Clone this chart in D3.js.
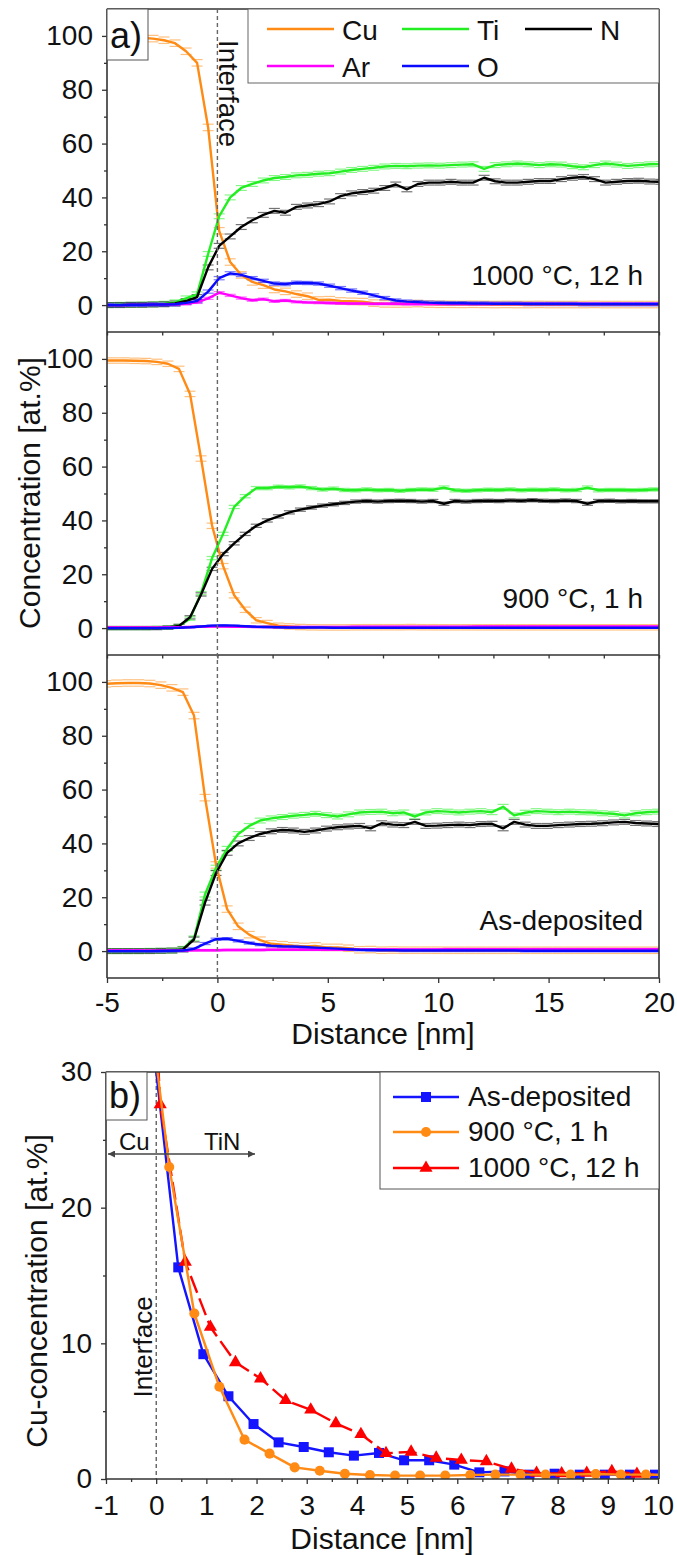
<!DOCTYPE html>
<html>
<head>
<meta charset="utf-8">
<script src="https://cdn.jsdelivr.net/npm/d3@7"></script>
<style>
  body { margin: 0; background: #fff; }
  svg { display: block; }
  text { font-family: "Liberation Sans", Arial, sans-serif; fill: #111; }
</style>
</head>
<body>
<svg id="chart" width="677" height="1555"></svg>
<script>
// ---------- data ----------
const elements = ["Cu", "Ti", "N", "Ar", "O"];
const elementColors = ["#ff8a14", "#22ee22", "#000000", "#ff00ff", "#0a0aff"];
const conditions = ["1000 °C, 12 h", "900 °C, 1 h", "As-deposited"];

// depth grid of each profile: first distance [nm] and spacing
const gridStart = [-5.42, -5.24, -5.06];
const gridStep = 0.5;

// 1000 °C, 12 h  [at.%]
const cu1000 = [99.8, 99.7, 99.6, 99.5, 99.3, 99.0, 98.4, 97.3, 94.3, 90.0,
  66.0, 27.6, 16.0, 11.2, 8.6, 7.4, 5.8, 5.1, 4.1, 3.3,
  1.9, 2.0, 1.55, 1.4, 1.3, 0.74, 0.44, 0.4, 0.44, 0.56,
  0.37, 0.3, 0.3, 0.25, 0.3, 0.25, 0.2, 0.25, 0.2, 0.2,
  0.25, 0.2, 0.2, 0.2, 0.2, 0.25, 0.2, 0.2, 0.2, 0.2, 0.2, 0.2];
const ti1000 = [0, 0, 0.1, 0.1, 0.2, 0.3, 0.5, 1.0, 2.5, 4.0,
  19, 33, 40, 43.5, 45, 46.3, 47.2, 47.6, 48.2, 48.4,
  48.8, 49.0, 49.6, 50.2, 50.6, 51.0, 51.5, 51.7, 51.6, 51.8,
  51.9, 51.8, 52.0, 52.2, 52.3, 50.6, 52.0, 52.3, 52.6, 52.3,
  52.0, 52.3, 52.2, 51.6, 51.2, 52.0, 52.6, 52.2, 51.7, 52.0, 52.3, 52.4];
const n1000 = [0, 0, 0, 0.1, 0.1, 0.2, 0.3, 0.6, 1.5, 3.0,
  14, 22, 25.5, 29, 31.5, 33.5, 35, 34.3, 36.5, 37,
  37.5, 38.5, 40.5, 41.5, 42, 42.5, 43.5, 44.8, 43.0, 45,
  45.5, 45.5, 45.8, 45.5, 45.5, 47.3, 46, 45.5, 45.5, 45.8,
  46.1, 46.1, 46.8, 47.3, 47.6, 46.8, 45.5, 45.8, 46.1, 46.2, 45.9, 45.8];
const ar1000 = [0, 0, 0, 0.1, 0.1, 0.2, 0.2, 0.3, 0.5, 1.0,
  2.5, 4.6, 3.6, 2.6, 1.8, 2.2, 1.4, 1.7, 1.2, 1.0,
  0.9, 0.8, 0.7, 0.6, 0.6, 0.5, 0.5, 0.5, 0.4, 0.4,
  0.4, 0.4, 0.4, 0.4, 0.4, 0.4, 0.4, 0.4, 0.4, 0.4,
  0.4, 0.4, 0.4, 0.4, 0.4, 0.4, 0.4, 0.4, 0.4, 0.4, 0.4, 0.4];
const o1000 = [0, 0, 0, 0.1, 0.1, 0.2, 0.2, 0.3, 0.8, 1.5,
  5, 10, 11.8, 11.2, 10, 9, 8, 7.8, 8.3, 8.2,
  8, 7.2, 6.3, 5.4, 4.6, 3.6, 2.6, 1.7, 1.3, 1.1,
  0.9, 0.8, 0.7, 0.7, 0.6, 0.6, 0.5, 0.5, 0.5, 0.4,
  0.4, 0.4, 0.4, 0.4, 0.3, 0.3, 0.3, 0.3, 0.3, 0.3, 0.3, 0.3];

// 900 °C, 1 h  [at.%]
const cu900 = [99.4, 99.4, 99.4, 99.3, 99.2, 98.9, 98.2, 96.3, 87, 63,
  38, 23, 12.2, 6.8, 2.9, 1.87, 0.86, 0.61, 0.39, 0.29,
  0.25, 0.25, 0.25, 0.3, 0.32, 0.32, 0.32, 0.32, 0.37, 0.32,
  0.32, 0.3, 0.3, 0.3, 0.3, 0.3, 0.3, 0.3, 0.3, 0.3,
  0.3, 0.3, 0.3, 0.3, 0.3, 0.3, 0.3, 0.3, 0.3, 0.3, 0.3, 0.3];
const ti900 = [0, 0, 0, 0, 0, 0.1, 0.2, 0.8, 3.5, 13,
  26, 35, 45, 49, 52, 52, 52.5, 52.3, 52.6, 52,
  51.5, 51.8, 51.3, 51.2, 51.5, 51.2, 51.3, 51.0, 51.3, 51.5,
  51.4, 52.2, 51.2, 51.0, 51.2, 51.4, 51.3, 51.5, 51.2, 51.4,
  51.3, 51.5, 51.2, 51.3, 52.2, 51.2, 51.3, 51.3, 51.2, 51.3, 51.5, 51.5];
const n900 = [0, 0, 0, 0, 0, 0, 0.2, 0.8, 4, 12.5,
  22, 27.5, 31.5, 35, 38, 40, 41.5, 43, 44, 44.8,
  45.5, 46, 46.5, 47, 47.2, 47, 47.2, 47.3, 47.2, 47.0,
  47.2, 46.2, 47.2, 47.0, 47.2, 47.3, 47.2, 47.4, 47.3, 47.5,
  47.3, 47.2, 47.4, 47.2, 46.2, 47.2, 47.3, 47.1, 47.2, 47.1, 47.1, 47.1];
const ar900 = [0.2, 0.2, 0.2, 0.2, 0.2, 0.2, 0.3, 0.3, 0.4, 0.5,
  0.6, 0.6, 0.5, 0.5, 0.4, 0.4, 0.4, 0.4, 0.4, 0.4,
  0.4, 0.4, 0.4, 0.5, 0.5, 0.5, 0.5, 0.5, 0.5, 0.5,
  0.5, 0.5, 0.5, 0.5, 0.6, 0.6, 0.6, 0.6, 0.6, 0.6,
  0.6, 0.6, 0.6, 0.6, 0.6, 0.6, 0.6, 0.6, 0.6, 0.6, 0.6, 0.6];
const o900 = [0, 0, 0, 0, 0, 0, 0.05, 0.1, 0.3, 0.6,
  0.9, 1.0, 0.9, 0.7, 0.5, 0.4, 0.3, 0.2, 0.2, 0.2,
  0.2, 0.1, 0.1, 0.1, 0.1, 0.1, 0.1, 0.1, 0.1, 0.1,
  0.1, 0.1, 0.1, 0.1, 0.1, 0.1, 0.1, 0.1, 0.1, 0.1,
  0.1, 0.1, 0.1, 0.1, 0.1, 0.1, 0.1, 0.1, 0.1, 0.1, 0.1, 0.1];

// As-deposited  [at.%]
const cuAsDep = [99.3, 99.5, 99.6, 99.6, 99.4, 98.8, 97.8, 96.2, 87.5, 57,
  32, 15.6, 9.2, 6.1, 4.05, 2.7, 2.36, 1.97, 1.72, 1.92,
  1.38, 1.38, 1.06, 0.49, 0.56, 0.32, 0.39, 0.32, 0.32, 0.32,
  0.32, 0.3, 0.3, 0.3, 0.3, 0.3, 0.3, 0.3, 0.3, 0.3,
  0.3, 0.3, 0.3, 0.3, 0.3, 0.3, 0.3, 0.3, 0.3, 0.3, 0.3, 0.3];
const tiAsDep = [0, 0, 0, 0, 0.1, 0.1, 0.2, 0.8, 4.7, 21,
  31, 38, 43.5, 46.5, 48.5, 49.3, 49.8, 50.3, 50.6, 51,
  50.5, 50, 50.8, 51.5, 51.7, 51.8, 51.2, 51.5, 50.0, 51.5,
  52.0, 51.8, 51.5, 51.8, 52.0, 51.6, 53.6, 50.4, 51.4, 52,
  51.8, 51.6, 51.8, 51.6, 51.5, 51.2, 51.0, 50.4, 51.2, 51.6, 51.8, 51.8];
const nAsDep = [0, 0, 0, 0, 0, 0.1, 0.2, 0.6, 4.3, 18,
  29, 36.5, 40, 42, 43.5, 44.5, 45, 44.8, 44.3, 44.8,
  45.5, 46, 46.3, 46.5, 45.6, 47.5, 47, 46.8, 48, 46.5,
  46.6, 46.8, 47, 46.8, 47.2, 47.3, 45.6, 48, 47, 46.5,
  46.5, 46.8, 47, 47.2, 47.3, 47.5, 47.8, 48, 47.6, 47.4, 47.2, 47.2];
const arAsDep = [0.2, 0.2, 0.2, 0.2, 0.2, 0.2, 0.2, 0.2, 0.3, 0.3,
  0.3, 0.4, 0.4, 0.4, 0.4, 0.5, 0.5, 0.5, 0.5, 0.5,
  0.5, 0.5, 0.6, 0.6, 0.6, 0.6, 0.6, 0.6, 0.6, 0.6,
  0.6, 0.7, 0.7, 0.7, 0.7, 0.7, 0.7, 0.7, 0.7, 0.7,
  0.7, 0.7, 0.7, 0.7, 0.7, 0.7, 0.7, 0.7, 0.7, 0.7, 0.7, 0.7];
const oAsDep = [0, 0, 0, 0, 0, 0.05, 0.1, 0.2, 0.8, 2.8,
  4.4, 4.6, 3.8, 3.0, 2.4, 2.0, 1.8, 1.7, 1.5, 1.3,
  1.1, 0.9, 0.7, 0.5, 0.4, 0.3, 0.3, 0.2, 0.2, 0.2,
  0.2, 0.2, 0.2, 0.2, 0.2, 0.2, 0.2, 0.2, 0.1, 0.1,
  0.1, 0.1, 0.1, 0.1, 0.1, 0.1, 0.1, 0.1, 0.1, 0.1, 0.1, 0.1];

// error bar half-widths per element (Cu, Ti, N, Ar, O) for each condition
const errHalf1000 = [1.2, 0.9, 0.9, 0.4, 0.6];
const errHalf900 = [1.0, 0.6, 0.6, 0.2, 0.2];
const errHalfAsDep = [1.2, 0.9, 0.9, 0.3, 0.4];

// axis ticks
const xTicksA = [-5, 0, 5, 10, 15, 20];
const xMinorA = [-2.5, 2.5, 7.5, 12.5, 17.5];
const yTicksA = [0, 20, 40, 60, 80, 100];
const yMinorA = [10, 30, 50, 70, 90];
const xTicksB = [-1, 0, 1, 2, 3, 4, 5, 6, 7, 8, 9, 10];
const xMinorB = [-0.5, 0.5, 1.5, 2.5, 3.5, 4.5, 5.5, 6.5, 7.5, 8.5, 9.5];
const yTicksB = [0, 10, 20, 30];
const yMinorB = [5, 15, 25];

// Cu-profile series shown in b)
const cuSeriesLabels = ["As-deposited", "900 °C, 1 h", "1000 °C, 12 h"];
const cuSeriesColors = ["#1414ff", "#ff8a14", "#ff0000"];
const cuSeriesMarkers = ["square", "circle", "triangle"];

// ---------- assembled tables ----------
const profiles = [
  { label: conditions[0], start: gridStart[0], series: [cu1000, ti1000, n1000, ar1000, o1000], err: errHalf1000 },
  { label: conditions[1], start: gridStart[1], series: [cu900, ti900, n900, ar900, o900], err: errHalf900 },
  { label: conditions[2], start: gridStart[2], series: [cuAsDep, tiAsDep, nAsDep, arAsDep, oAsDep], err: errHalfAsDep }
];
const toPoints = (vals, start) => vals.map((v, i) => ({ x: start + gridStep * i, v }));

const svg = d3.select("#chart");
const axisColor = "#333";

function styleAxis(g, fontSize) {
  g.select(".domain").remove();
  g.selectAll(".tick line").attr("stroke", axisColor).attr("stroke-width", 1.3);
  g.selectAll(".tick text").attr("font-size", fontSize).attr("fill", "#111")
    .attr("font-family", "Liberation Sans, Arial, sans-serif");
}

// ---------- panel a) ----------
const aLeft = 107, aRight = 659;
const subTops = [9, 332, 655], subH = 323;
const xA = d3.scaleLinear().domain([-5, 20]).range([aLeft, aRight]);

profiles.forEach((p, i) => {
  const top = subTops[i];
  const y = d3.scaleLinear().domain([-10, 110]).range([top + subH, top]);
  const clipId = "clipA" + i;
  svg.append("clipPath").attr("id", clipId)
    .append("rect").attr("x", aLeft).attr("y", top).attr("width", aRight - aLeft).attr("height", subH);
  const g = svg.append("g").attr("clip-path", `url(#${clipId})`);
  const line = d3.line().x(d => xA(d.x)).y(d => y(d.v));

  p.series.forEach((vals, k) => {
    const pts = toPoints(vals, p.start);
    const e = p.err[k];
    const caps = g.append("g").attr("stroke", elementColors[k]).attr("stroke-opacity", 0.55).attr("stroke-width", 1.2);
    pts.forEach(d => {
      [d.v - e, d.v + e].forEach(val => {
        caps.append("line")
          .attr("x1", xA(d.x) - 5.5).attr("x2", xA(d.x) + 5.5)
          .attr("y1", y(val)).attr("y2", y(val));
      });
    });
  });
  p.series.forEach((vals, k) => {
    g.append("path").datum(toPoints(vals, p.start))
      .attr("fill", "none").attr("stroke", elementColors[k])
      .attr("stroke-width", 2.4).attr("stroke-linejoin", "round")
      .attr("d", line);
  });

  // y axis
  const ya = svg.append("g").attr("transform", `translate(${aLeft},0)`)
    .call(d3.axisLeft(y).tickValues(yTicksA).tickSize(5).tickPadding(9).tickFormat(d => String(d)));
  styleAxis(ya, 28);
  const ym = svg.append("g").attr("transform", `translate(${aLeft},0)`)
    .call(d3.axisLeft(y).tickValues(yMinorA).tickSize(3).tickFormat(""));
  styleAxis(ym, 28);

  // condition label
  svg.append("text").attr("x", 643).attr("y", [285, 608, 930][i])
    .attr("text-anchor", "end").attr("font-size", 28).text(p.label);
});

// separator ticks between stacked profiles
[332, 655].forEach(yy => {
  const s = svg.append("g").attr("transform", `translate(0,${yy})`)
    .call(d3.axisBottom(xA).tickValues(xTicksA.concat(xMinorA)).tickSize(3.5).tickFormat(""));
  styleAxis(s, 28);
});
// bottom x axis
const xa = svg.append("g").attr("transform", "translate(0,978)")
  .call(d3.axisBottom(xA).tickValues(xTicksA).tickSize(5).tickPadding(9).tickFormat(d => String(d)));
styleAxis(xa, 28);
const xam = svg.append("g").attr("transform", "translate(0,978)")
  .call(d3.axisBottom(xA).tickValues(xMinorA).tickSize(3).tickFormat(""));
styleAxis(xam, 28);

// frame lines
const frameA = svg.append("g").attr("stroke", axisColor).attr("stroke-width", 1.6);
frameA.append("line").attr("x1", aLeft).attr("x2", aLeft).attr("y1", 9).attr("y2", 978);
frameA.append("line").attr("x1", aRight).attr("x2", aRight).attr("y1", 9).attr("y2", 978);
[9, 332, 655, 978].forEach(yy =>
  frameA.append("line").attr("x1", aLeft).attr("x2", aRight).attr("y1", yy).attr("y2", yy));

// interface marker
svg.append("line").attr("x1", xA(0)).attr("x2", xA(0)).attr("y1", 9).attr("y2", 978)
  .attr("stroke", "#666").attr("stroke-width", 1.4).attr("stroke-dasharray", "4,3");
svg.append("text").attr("transform", `translate(${xA(0) + 2},40) rotate(90)`)
  .attr("font-size", 27.5).text("Interface");

// "a)" tag
svg.append("rect").attr("x", aLeft).attr("y", 9).attr("width", 41).attr("height", 51)
  .attr("fill", "#fff").attr("stroke", "#555").attr("stroke-width", 1);
svg.append("text").attr("x", 110).attr("y", 48).attr("font-size", 36).text("a)");

// legend a)
svg.append("rect").attr("x", 248).attr("y", 9).attr("width", aRight - 248).attr("height", 74)
  .attr("fill", "#fff").attr("stroke", "#666").attr("stroke-width", 1);
const legPos = [[267, 29], [402, 29], [525, 29], [267, 66], [402, 66]];
elements.forEach((el, k) => {
  const [lx, ly] = legPos[k];
  svg.append("line").attr("x1", lx).attr("x2", lx + 67).attr("y1", ly).attr("y2", ly)
    .attr("stroke", elementColors[k]).attr("stroke-width", 2.4);
  svg.append("text").attr("x", lx + 75).attr("y", ly + 11).attr("font-size", 28).text(el);
});

// axis titles a)
svg.append("text").attr("transform", "translate(40,493) rotate(-90)")
  .attr("text-anchor", "middle").attr("font-size", 30).text("Concentration [at.%]");
svg.append("text").attr("x", 383).attr("y", 1044).attr("text-anchor", "middle")
  .attr("font-size", 30).text("Distance [nm]");

// ---------- panel b) ----------
const bLeft = 106, bRight = 658, bTop = 1072, bBottom = 1479;
const xB = d3.scaleLinear().domain([-1, 10]).range([bLeft, bRight]);
const yB = d3.scaleLinear().domain([0, 30]).range([bBottom, bTop]);

svg.append("clipPath").attr("id", "clipB")
  .append("rect").attr("x", bLeft).attr("y", bTop).attr("width", bRight - bLeft).attr("height", bBottom - bTop);

// interface line
svg.append("line").attr("x1", xB(0)).attr("x2", xB(0)).attr("y1", bTop).attr("y2", bBottom)
  .attr("stroke", "#222").attr("stroke-width", 1).attr("stroke-dasharray", "4,3");

const gB = svg.append("g").attr("clip-path", "url(#clipB)");
const lineB = d3.line().x(d => xB(d.x)).y(d => yB(d.v));
const cuProfiles = [
  { pts: toPoints(cuAsDep, gridStart[2]), color: cuSeriesColors[0], marker: cuSeriesMarkers[0], dash: null },
  { pts: toPoints(cu1000, gridStart[0]), color: cuSeriesColors[2], marker: cuSeriesMarkers[2], dash: "18,6" },
  { pts: toPoints(cu900, gridStart[1]), color: cuSeriesColors[1], marker: cuSeriesMarkers[1], dash: null }
];
const symbolOf = m => m === "square" ? d3.symbolSquare : m === "circle" ? d3.symbolCircle : d3.symbolTriangle;
const sizeOf = m => m === "square" ? 100 : m === "circle" ? 80 : 75;

cuProfiles.forEach(cp => {
  const inView = cp.pts.filter(d => d.x >= -0.6 && d.x <= 10.6);
  gB.append("path").datum(inView)
    .attr("fill", "none").attr("stroke", cp.color).attr("stroke-width", 2.4)
    .attr("stroke-linejoin", "round")
    .attr("stroke-dasharray", cp.dash)
    .attr("d", lineB);
  gB.selectAll(null).data(inView.filter(d => d.x >= -1 && d.x <= 10 && d.v <= 30)).join("path")
    .attr("transform", d => `translate(${xB(d.x)},${yB(d.v)})`)
    .attr("d", d3.symbol().type(symbolOf(cp.marker)).size(sizeOf(cp.marker)))
    .attr("fill", cp.color);
});

// axes b)
const xb = svg.append("g").attr("transform", `translate(0,${bBottom})`)
  .call(d3.axisBottom(xB).tickValues(xTicksB).tickSize(5).tickPadding(11).tickFormat(d => String(d)));
styleAxis(xb, 28);
const xbm = svg.append("g").attr("transform", `translate(0,${bBottom})`)
  .call(d3.axisBottom(xB).tickValues(xMinorB).tickSize(3).tickFormat(""));
styleAxis(xbm, 28);
const yb = svg.append("g").attr("transform", `translate(${bLeft},0)`)
  .call(d3.axisLeft(yB).tickValues(yTicksB).tickSize(5).tickPadding(9).tickFormat(d => String(d)));
styleAxis(yb, 28);
const ybm = svg.append("g").attr("transform", `translate(${bLeft},0)`)
  .call(d3.axisLeft(yB).tickValues(yMinorB).tickSize(3).tickFormat(""));
styleAxis(ybm, 28);

const frameB = svg.append("g").attr("stroke", axisColor).attr("stroke-width", 1.6);
frameB.append("line").attr("x1", bLeft).attr("x2", bLeft).attr("y1", bTop).attr("y2", bBottom);
frameB.append("line").attr("x1", aRight).attr("x2", aRight).attr("y1", bTop).attr("y2", bBottom);
frameB.append("line").attr("x1", bLeft).attr("x2", aRight).attr("y1", bTop).attr("y2", bTop);
frameB.append("line").attr("x1", bLeft).attr("x2", aRight).attr("y1", bBottom).attr("y2", bBottom);

// "b)" tag
svg.append("rect").attr("x", bLeft).attr("y", bTop).attr("width", 41).attr("height", 48)
  .attr("fill", "#fff").attr("stroke", "#555").attr("stroke-width", 1);
svg.append("text").attr("x", 109).attr("y", 1108).attr("font-size", 36).text("b)");

// Cu | TiN arrow
svg.append("defs").html(
  '<marker id="arrowHead" viewBox="0 0 10 10" refX="10" refY="5" markerWidth="10" markerHeight="7" markerUnits="userSpaceOnUse" orient="auto-start-reverse">' +
  '<path d="M0,0 L10,5 L0,10 z" fill="#444"/></marker>');
svg.append("line").attr("x1", bLeft + 2).attr("x2", 255).attr("y1", 1154).attr("y2", 1154)
  .attr("stroke", "#444").attr("stroke-width", 1.4)
  .attr("marker-start", "url(#arrowHead)").attr("marker-end", "url(#arrowHead)");
svg.append("text").attr("x", 119).attr("y", 1150).attr("font-size", 24).text("Cu");
svg.append("text").attr("x", 204).attr("y", 1150).attr("font-size", 24).text("TiN");

// interface label b)
svg.append("text").attr("transform", "translate(152,1347) rotate(-90)")
  .attr("text-anchor", "middle").attr("font-size", 26).text("Interface");

// legend b)
svg.append("rect").attr("x", 380).attr("y", bTop).attr("width", aRight - 380).attr("height", 117)
  .attr("fill", "#fff").attr("stroke", "#555").attr("stroke-width", 1);
const legRowsB = [1097, 1132, 1168];
cuSeriesLabels.forEach((lab, k) => {
  const ly = legRowsB[k];
  svg.append("line").attr("x1", 393).attr("x2", 459).attr("y1", ly).attr("y2", ly)
    .attr("stroke", cuSeriesColors[k]).attr("stroke-width", 2.4);
  svg.append("path").attr("transform", `translate(426,${ly})`)
    .attr("d", d3.symbol().type(symbolOf(cuSeriesMarkers[k])).size(sizeOf(cuSeriesMarkers[k])))
    .attr("fill", cuSeriesColors[k]);
  svg.append("text").attr("x", 468).attr("y", ly + 9).attr("font-size", 28).text(lab);
});

// axis titles b)
svg.append("text").attr("transform", "translate(47,1291) rotate(-90)")
  .attr("text-anchor", "middle").attr("font-size", 30).text("Cu-concentration [at.%]");
svg.append("text").attr("x", 382).attr("y", 1549).attr("text-anchor", "middle")
  .attr("font-size", 30).text("Distance [nm]");
</script>
</body>
</html>
